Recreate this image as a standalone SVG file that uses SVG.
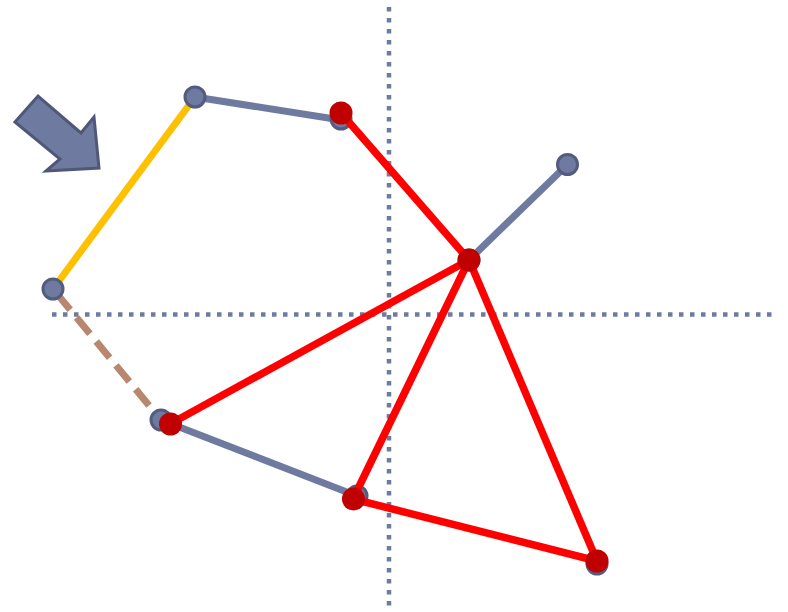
<svg xmlns="http://www.w3.org/2000/svg" width="788" height="612" viewBox="0 0 788 612">
<style>
.axis{stroke:#6f7aa0;stroke-width:4.5;stroke-dasharray:4.5 6.5;fill:none}
.gl{stroke:#6f7aa0;stroke-width:7;fill:none}
.rl{stroke:#ff0000;stroke-width:7.5;fill:none}
.gn{fill:#6f7aa0;stroke:#535c7e;stroke-width:3}
.rn{fill:#c00000}
</style>
<rect width="788" height="612" fill="#ffffff"/>
<g id="axes">
<line class="axis" x1="389" y1="7" x2="389" y2="612"/>
<line class="axis" x1="52" y1="314.5" x2="772" y2="314.5"/>
</g>
<g id="arrow">
<polygon points="15,122 38,96 81,133 94,117 99,168 46,171 60,159" fill="#6f7aa0" stroke="#4f5878" stroke-width="3" stroke-linejoin="miter"/>
</g>
<g id="connectors">
<line class="gl" x1="195" y1="97" x2="341" y2="120"/>
<line class="gl" x1="469" y1="260" x2="567.5" y2="164.5"/>
<line class="gl" x1="161" y1="420" x2="357" y2="496"/>
<line x1="195" y1="97" x2="53" y2="289" stroke="#ffc000" stroke-width="7"/>
<line x1="53" y1="289" x2="161" y2="420" stroke="#b8876f" stroke-width="7" stroke-dasharray="21 10" stroke-dashoffset="-6"/>
</g>
<g id="grey-nodes">
<circle id="nA" class="gn" cx="195" cy="97" r="10"/>
<circle id="nB" class="gn" cx="341" cy="119" r="10"/>
<circle id="nC" class="gn" cx="567.5" cy="164.5" r="10"/>
<circle id="nD" class="gn" cx="53" cy="289" r="10"/>
<circle id="nE" class="gn" cx="161" cy="420" r="10"/>
<circle id="nF" class="gn" cx="357" cy="496" r="10"/>
<circle id="nG" class="gn" cx="597" cy="564" r="10"/>
<circle id="nH" class="gn" cx="469" cy="260" r="10"/>
</g>
<g id="red-connectors">
<line class="rl" x1="341" y1="113" x2="469" y2="260"/>
<line class="rl" x1="469" y1="260" x2="170" y2="424"/>
<line class="rl" x1="469" y1="260" x2="353" y2="499"/>
<line class="rl" x1="469" y1="260" x2="597" y2="561"/>
<line class="rl" x1="353" y1="499" x2="597" y2="561"/>
</g>
<g id="red-nodes">
<circle id="rB" class="rn" cx="341" cy="113" r="11.5"/>
<circle id="rH" class="rn" cx="469" cy="260" r="11.5"/>
<circle id="rE" class="rn" cx="170.5" cy="424" r="11.5"/>
<circle id="rF" class="rn" cx="353.5" cy="499" r="11.5"/>
<circle id="rG" class="rn" cx="597" cy="561" r="11.5"/>
</g>
</svg>
